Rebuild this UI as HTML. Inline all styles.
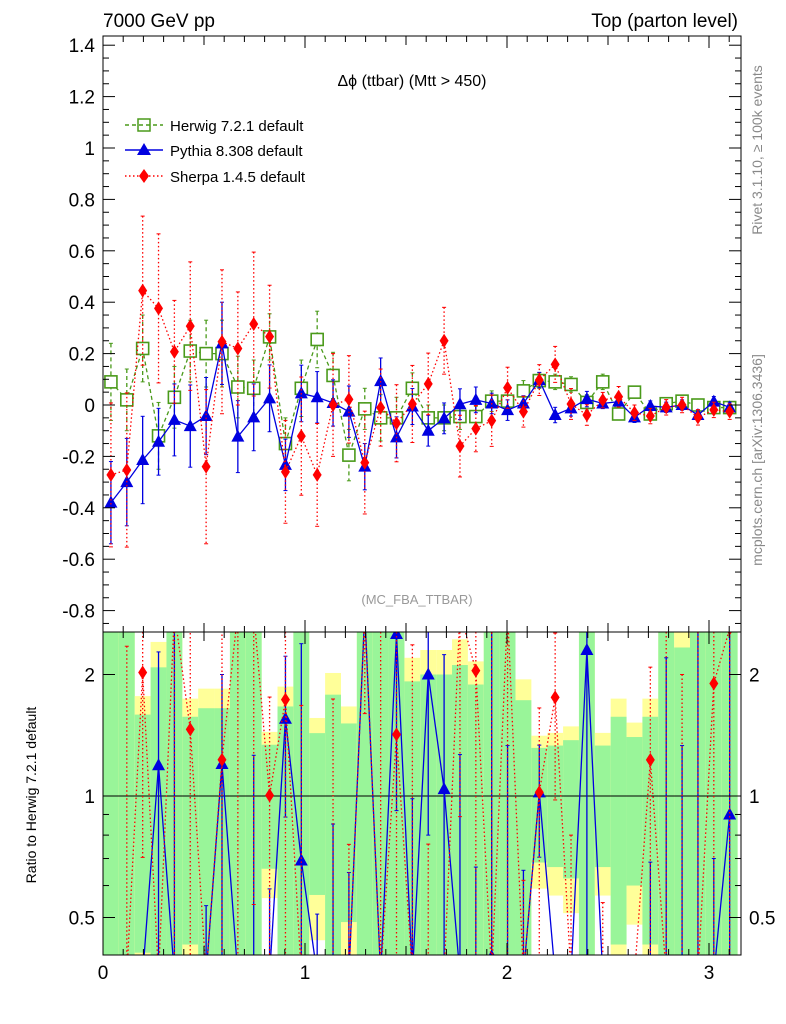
<!DOCTYPE html>
<html><head><meta charset="utf-8"><style>
html,body{margin:0;background:#fff;width:786px;height:1024px;overflow:hidden;}
svg{display:block;font-family:"Liberation Sans",sans-serif;overflow:hidden;}
</style></head><body>
<svg id="chart" width="786" height="1024" viewBox="0 0 786 1024">
<text x="103" y="27" font-size="19">7000 GeV pp</text>
<text x="738" y="27" font-size="19" text-anchor="end">Top (parton level)</text>
<text x="412" y="86" font-size="16" text-anchor="middle">Δϕ (ttbar) (Mtt &gt; 450)</text>
<text x="417" y="604" font-size="13" fill="#999" text-anchor="middle">(MC_FBA_TTBAR)</text>
<text transform="translate(762,150) rotate(-90)" font-size="14" fill="#888" text-anchor="middle">Rivet 3.1.10, ≥ 100k events</text>
<text transform="translate(762,460) rotate(-90)" font-size="14" fill="#888" text-anchor="middle">mcplots.cern.ch [arXiv:1306.3436]</text>
<text transform="translate(36,795) rotate(-90)" font-size="14" text-anchor="middle">Ratio to Herwig 7.2.1 default</text>
<g id="legend">
<g><line x1="125" y1="125" x2="163" y2="125" stroke="#4a9a1a" stroke-width="1.5" stroke-dasharray="4,3"/><rect x="138" y="119" width="12" height="12" fill="none" stroke="#4a9a1a" stroke-width="1.5"/><text x="170" y="131" font-size="15">Herwig 7.2.1 default</text></g>
<g><line x1="125" y1="150" x2="163" y2="150" stroke="#0000e0" stroke-width="1.5"/><polygon points="144,143 151,155 137,155" fill="#0000e0"/><text x="170" y="156" font-size="15">Pythia 8.308 default</text></g>
<g><line x1="125" y1="176" x2="163" y2="176" stroke="#f00" stroke-width="1.5" stroke-dasharray="1.5,2.5"/><polygon points="144,169 149,176 144,183 139,176" fill="#f00"/><text x="170" y="182" font-size="15">Sherpa 1.4.5 default</text></g>
</g>
</svg>
<script>
const herwig=[0.09,0.02,0.22,-0.12,0.03,0.21,0.20,0.20,0.07,0.065,0.265,-0.15,0.065,0.255,0.115,-0.195,-0.015,-0.05,-0.05,0.065,-0.05,-0.05,-0.045,-0.045,0.015,0.015,0.055,0.095,0.09,0.08,0.01,0.09,-0.035,0.05,-0.035,0.005,0.015,0,-0.01,-0.01];
const pythia=[-0.38,-0.30,-0.214,-0.143,-0.058,-0.082,-0.043,0.24,-0.123,-0.048,0.026,-0.233,0.045,0.03,0.008,-0.026,-0.24,0.093,-0.126,-0.006,-0.1,-0.052,0.003,0.02,0.006,-0.02,0.006,0.097,-0.039,-0.013,0.023,0.006,0.013,-0.048,-0.004,-0.009,0,-0.039,0.013,-0.009];
const sherpa=[-0.272,-0.253,0.445,0.376,0.207,0.307,-0.24,0.246,0.22,0.315,0.266,-0.26,-0.121,-0.272,0.0,0.022,-0.224,-0.01,-0.071,0.004,0.082,0.25,-0.16,-0.092,-0.061,0.067,-0.026,0.097,0.158,0.004,-0.039,0.019,0.032,-0.03,-0.043,-0.009,0,-0.048,-0.019,-0.026];
const herErr=[0.15,0.12,0.13,0.13,0.12,0.12,0.13,0.13,0.12,0.11,0.09,0.10,0.11,0.11,0.09,0.1,0.08,0.09,0.08,0.06,0.05,0.05,0.05,0.04,0.04,0.04,0.04,0.03,0.03,0.03,0.03,0.03,0.02,0.02,0.02,0.02,0.02,0.02,0.02,0.02];
const pyErr=[0.16,0.17,0.17,0.13,0.14,0.16,0.15,0.16,0.14,0.13,0.13,0.1,0.11,0.1,0.09,0.1,0.09,0.09,0.08,0.07,0.06,0.06,0.06,0.05,0.04,0.04,0.03,0.03,0.03,0.03,0.03,0.02,0.02,0.02,0.02,0.02,0.02,0.02,0.02,0.02];
const shErr=[0.28,0.3,0.29,0.29,0.2,0.25,0.3,0.28,0.22,0.28,0.2,0.2,0.23,0.2,0.2,0.17,0.2,0.15,0.15,0.15,0.12,0.13,0.12,0.09,0.1,0.08,0.06,0.06,0.07,0.06,0.04,0.03,0.04,0.03,0.03,0.03,0.03,0.03,0.03,0.03];
const mainTicks=[-0.8,-0.6,-0.4,-0.2,0,0.2,0.4,0.6,0.8,1,1.2,1.4];
const xTicks=[0,1,2,3];
const ratioTicks=[0.5,1,2];

const NS="http://www.w3.org/2000/svg";
const svg=document.getElementById('chart');
const L=103,R=741,T=36,M=632,B=955;
const nb=herwig.length, bw=Math.PI/nb;
const X=v=>L+v*202;
const Y=v=>405-v*257;
const YR=r=>r<=0?B+20:Math.min(B+20,Math.max(M-20,796-Math.log2(r)*121.5));
function el(t,a,p){const e=document.createElementNS(NS,t);for(const k in a)e.setAttribute(k,a[k]);(p||svg).appendChild(e);return e;}
const defs=el('defs',{});
const c1=el('clipPath',{id:'cm'},defs);el('rect',{x:L,y:T,width:R-L,height:M-T},c1);
const c2=el('clipPath',{id:'cr'},defs);el('rect',{x:L,y:M,width:R-L,height:B-M},c2);

const gR=el('g',{'clip-path':'url(#cr)'});


for(let i=0;i<nb;i++){
  const r=herErr[i]/Math.max(Math.abs(herwig[i]),1e-4);
  const x0=X(i*bw),x1=X((i+1)*bw);
  const y1=el('rect',{x:x0,y:YR(1+1.3*r),width:x1-x0,height:YR(1-1.3*r)-YR(1+1.3*r),fill:'#ffff99'},gR);
  
  
  const g1=el('rect',{x:x0,y:YR(1+r),width:x1-x0,height:YR(1-r)-YR(1+r),fill:'#99f599'},gR);
  
  
}
el('line',{x1:L,y1:YR(1),x2:R,y2:YR(1),stroke:'#000','stroke-width':1});

function series(vals,errs,color,dash,marker,yf,clip,name){
  const g=el('g',{'clip-path':clip});
  
  
  const pts=vals.map((v,i)=>[X((i+0.5)*bw),yf(v)]);
  const pl=el('polyline',{points:pts.map(p=>p.join(',')).join(' '),fill:'none',stroke:color,'stroke-width':1.3,'stroke-dasharray':dash},g);
  
  
  vals.forEach((v,i)=>{
    const [x,y]=pts[i];
    if(errs){
      const eb=el('line',{x1:x,y1:yf(v+errs[i]),x2:x,y2:yf(v-errs[i]),stroke:color,'stroke-width':1.3,'stroke-dasharray':dash},g);
      
      
      el('line',{x1:x-2,y1:yf(v+errs[i]),x2:x+2,y2:yf(v+errs[i]),stroke:color},g);
      el('line',{x1:x-2,y1:yf(v-errs[i]),x2:x+2,y2:yf(v-errs[i]),stroke:color},g);
    }
    let m;
    if(marker==='sq') m=el('rect',{x:x-6,y:y-6,width:12,height:12,fill:'#fff',stroke:color,'stroke-width':1.6},g);
    else if(marker==='tri') m=el('polygon',{points:`${x},${y-7} ${x+6.5},${y+5} ${x-6.5},${y+5}`,fill:color},g);
    else m=el('polygon',{points:`${x},${y-7} ${x+4.5},${y} ${x},${y+7} ${x-4.5},${y}`,fill:color},g);
    
    
  });
}
series(herwig,herErr,'#4a9a1a','4,3','sq',Y,'url(#cm)','herwig-series');
series(pythia,pyErr,'#0000e0','','tri',Y,'url(#cm)','pythia-series');
series(sherpa,shErr,'#f00','1.5,2.5','dia',Y,'url(#cm)','sherpa-series');

const pyR=pythia.map((v,i)=>v/herwig[i]);
const shR=sherpa.map((v,i)=>v/herwig[i]);
const pyRE=pyErr.map((e,i)=>Math.abs(e/herwig[i]));
const shRE=shErr.map((e,i)=>Math.abs(e/herwig[i]));
series(pyR,pyRE,'#0000e0','','tri',YR,'url(#cr)','pythia-ratio-series');
series(shR,shRE,'#f00','1.5,2.5','dia',YR,'url(#cr)','sherpa-ratio-series');

const ax=el('g',{stroke:'#000','stroke-width':1,fill:'none'});


el('rect',{x:L,y:T,width:R-L,height:M-T},ax);
el('rect',{x:L,y:M,width:R-L,height:B-M},ax);
for(let v=-0.85;v<=1.44;v+=0.05){
  const vv=Math.round(v*100)/100;const y=Y(vv);
  const maj=Math.abs(vv*5-Math.round(vv*5))<1e-6;const len=maj?12:6;
  el('line',{x1:L,y1:y,x2:L+len,y2:y},ax);el('line',{x1:R,y1:y,x2:R-len,y2:y},ax);
}
mainTicks.forEach(v=>{
  const t=el('text',{x:L-8,y:Y(v)+7,'font-size':19,'text-anchor':'end'});
  t.textContent=(Math.round(v*10)/10).toString();
  
  
});
for(let v=0;v<=3.14;v+=0.1){
  const vv=Math.round(v*10)/10;const x=X(vv);
  const k=Math.round(vv*10);const len=k%10===0?12:(k%5===0?9:6);
  [[T,1],[M,-1],[M,1],[B,-1]].forEach(([y0,s])=>el('line',{x1:x,y1:y0,x2:x,y2:y0+s*len},ax));
}
xTicks.forEach(v=>{
  const t=el('text',{x:X(v),y:B+24,'font-size':19,'text-anchor':'middle'});
  t.textContent=v;
  
  
});
[0.5,0.6,0.7,0.8,0.9,1,2].forEach(v=>{const y=YR(v);const len=(v===0.5||v===1||v===2)?12:6;
  el('line',{x1:L,y1:y,x2:L+len,y2:y},ax);el('line',{x1:R,y1:y,x2:R-len,y2:y},ax);});
ratioTicks.forEach(v=>{
  const a=el('text',{x:L-8,y:YR(v)+7,'font-size':19,'text-anchor':'end'});a.textContent=v;
  
  
  const b=el('text',{x:R+8,y:YR(v)+7,'font-size':19});b.textContent=v;
  
  
});
</script>
</body></html>
